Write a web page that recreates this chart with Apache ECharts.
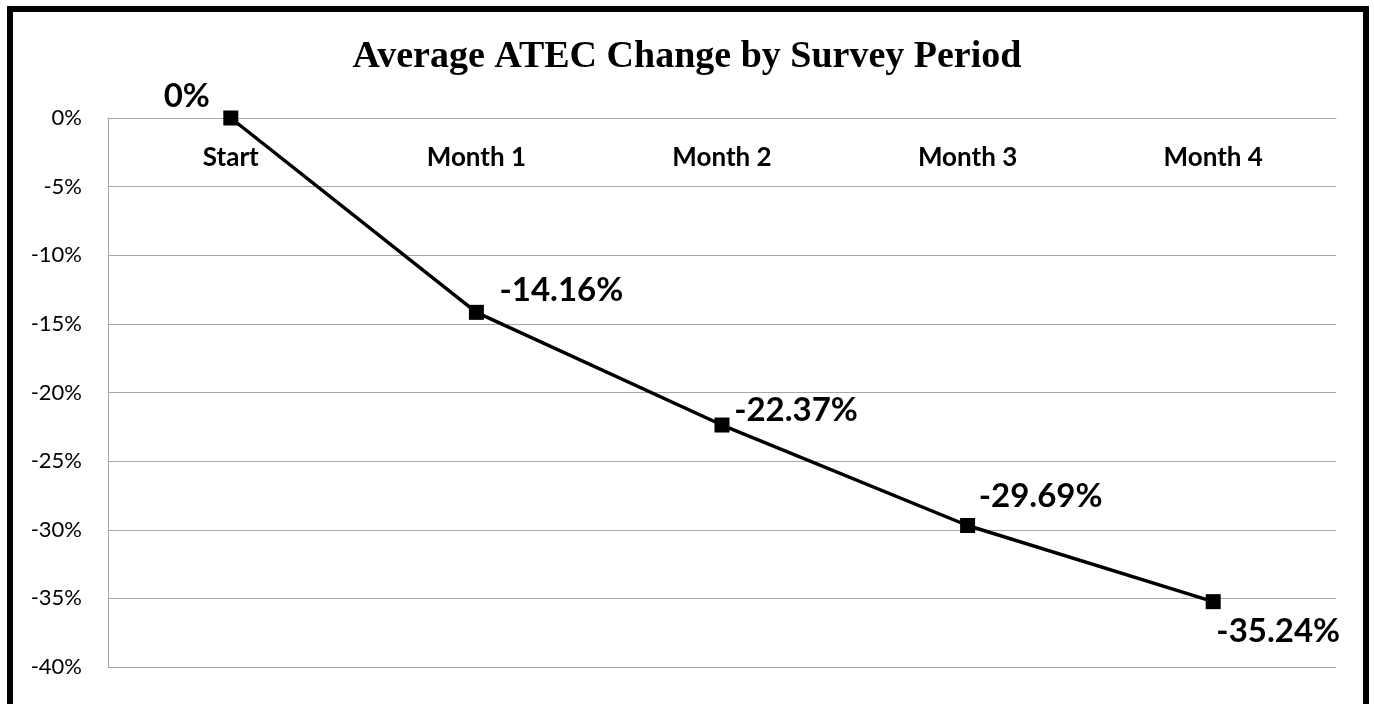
<!DOCTYPE html>
<html>
<head>
<meta charset="utf-8">
<script src="https://cdn.jsdelivr.net/npm/echarts@6/dist/echarts.min.js"></script>
<style>
html,body{margin:0;padding:0;background:#fff;}
#chart{width:1374px;height:704px;}
#frame{position:absolute;left:7px;top:6px;width:1350px;height:720px;border:6px solid #000;pointer-events:none;}
</style>
</head>
<body>
<div id="chart"></div>
<div id="frame"></div>
<script>
const titleText = "Average ATEC Change by Survey Period";
const categories = ["Start", "Month 1", "Month 2", "Month 3", "Month 4"];
const values = [0, -14.16, -22.37, -29.69, -35.24];
const valueLabels = ["0%", "-14.16%", "-22.37%", "-29.69%", "-35.24%"];
const labelOffsets = [[-44, -22], [85, -22], [74, -15], [73, -29], [65, 30]];

const chart = echarts.init(document.getElementById('chart'), null, {renderer: 'canvas'});
chart.setOption({
  animation: false,
  backgroundColor: '#fff',
  title: {
    text: titleText,
    left: 'center',
    top: 33,
    textStyle: {fontFamily: 'Liberation Serif', fontWeight: 'bold', fontSize: 38, color: '#000'}
  },
  grid: {left: 108, right: 38, top: 118, bottom: 37},
  xAxis: {
    type: 'category',
    data: categories,
    position: 'top',
    boundaryGap: true,
    axisLine: {show: true, lineStyle: {color: '#a6a6a6', width: 1}},
    axisTick: {show: false},
    axisLabel: {inside: true, margin: 27, fontFamily: 'Lato', fontWeight: 'bold', fontSize: 26, color: '#000'},
    splitLine: {show: false}
  },
  yAxis: {
    type: 'value',
    min: -40, max: 0, interval: 5,
    axisLine: {show: true, lineStyle: {color: '#a6a6a6', width: 1}},
    axisTick: {show: false},
    axisLabel: {formatter: v => v + '%', margin: 26, fontFamily: 'Lato', fontSize: 22, color: '#000'},
    splitLine: {show: true, lineStyle: {color: '#a6a6a6', width: 1}}
  },
  series: [{
    type: 'line',
    data: values.map((v, i) => ({
      value: v,
      label: {
        show: true,
        position: 'inside',
        offset: labelOffsets[i],
        formatter: valueLabels[i],
        align: 'center',
        verticalAlign: 'middle'
      }
    })),
    symbol: 'rect',
    symbolSize: 15,
    lineStyle: {color: '#000', width: 3.5},
    itemStyle: {color: '#000'},
    label: {fontFamily: 'Lato', fontWeight: 'bold', fontSize: 33, color: '#000'}
  }]
});
</script>
</body>
</html>
